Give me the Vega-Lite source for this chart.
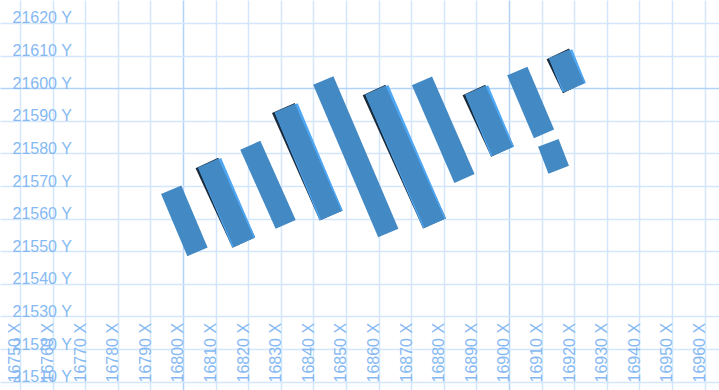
{
  "$schema": "https://vega.github.io/schema/vega-lite/v6.json",
  "width": 719,
  "height": 390,
  "autosize": "none",
  "padding": 0,
  "background": "white",
  "config": {"view": {"stroke": null}},
  "data": {
    "values": [
      {"bar": 1, "group": "a", "x_top": 16796.38, "y_top": 21568.88, "x_bottom": 16804.45, "y_bottom": 21549.80},
      {"bar": 2, "group": "b", "x_top": 16807.76, "y_top": 21577.07, "x_bottom": 16818.65, "y_bottom": 21552.69},
      {"bar": 3, "group": "a", "x_top": 16820.64, "y_top": 21582.52, "x_bottom": 16831.50, "y_bottom": 21558.24},
      {"bar": 4, "group": "b", "x_top": 16831.23, "y_top": 21593.93, "x_bottom": 16845.46, "y_bottom": 21560.97},
      {"bar": 5, "group": "a", "x_top": 16843.04, "y_top": 21602.36, "x_bottom": 16862.98, "y_bottom": 21555.60},
      {"bar": 6, "group": "b", "x_top": 16859.05, "y_top": 21599.45, "x_bottom": 16877.15, "y_bottom": 21558.54},
      {"bar": 7, "group": "a", "x_top": 16873.31, "y_top": 21602.24, "x_bottom": 16886.35, "y_bottom": 21572.31},
      {"bar": 8, "group": "b", "x_top": 16889.66, "y_top": 21599.45, "x_bottom": 16898.01, "y_bottom": 21580.59},
      {"bar": 9, "group": "a", "x_top": 16902.55, "y_top": 21605.28, "x_bottom": 16910.74, "y_bottom": 21585.99},
      {"bar": 10, "group": "a", "x_top": 16912.06, "y_top": 21583.23, "x_bottom": 16915.25, "y_bottom": 21575.01},
      {"bar": 11, "group": "b", "x_top": 16915.40, "y_top": 21610.52, "x_bottom": 16920.00, "y_bottom": 21600.16}
    ]
  },
  "encoding": {
    "x": {
      "field": "x_top", "type": "quantitative",
      "scale": {"domain": [16743.87, 16964.42], "zero": false, "nice": false},
      "axis": {
        "orient": "bottom", "title": null,
        "values": [16750,16760,16770,16780,16790,16800,16810,16820,16830,16840,16850,16860,16870,16880,16890,16900,16910,16920,16930,16940,16950,16960],
        "labelExpr": "datum.value + ' X'",
        "labelAngle": -90, "labelAlign": "left", "labelBaseline": "alphabetic",
        "labelPadding": -8, "ticks": false, "domain": false,
        "labelOverlap": false, "labelBound": false, "labelFlush": false,
        "labelFont": "Liberation Sans", "labelFontSize": 16, "labelColor": "#86b9f2",
        "grid": true,
        "gridColor": {"condition": {"test": "datum.value % 100 === 0", "value": "#b2d2f8"}, "value": "#d4e6fc"},
        "gridWidth": 1.5
      }
    },
    "y": {
      "field": "y_top", "type": "quantitative",
      "scale": {"domain": [21507.45, 21627.05], "zero": false, "nice": false},
      "axis": {
        "orient": "left", "title": null,
        "values": [21510,21520,21530,21540,21550,21560,21570,21580,21590,21600,21610,21620],
        "labelExpr": "datum.value + ' Y'",
        "labelAlign": "left", "labelBaseline": "alphabetic",
        "labelPadding": -12, "ticks": false, "domain": false,
        "labelOverlap": false, "labelBound": false, "labelFlush": false,
        "labelFont": "Liberation Sans", "labelFontSize": 16, "labelColor": "#86b9f2",
        "grid": true,
        "gridColor": {"condition": {"test": "datum.value % 100 === 0", "value": "#b2d2f8"}, "value": "#d4e6fc"},
        "gridWidth": 1.5
      }
    },
    "x2": {"field": "x_bottom"},
    "y2": {"field": "y_bottom"}
  },
  "layer": [
    {
      "transform": [{"filter": "datum.group === 'b'"}],
      "mark": {"type": "rule", "color": "#1a2b3c", "strokeWidth": 25, "strokeCap": "butt", "xOffset": -1.4}
    },
    {
      "transform": [{"filter": "datum.group === 'b'"}],
      "mark": {"type": "rule", "color": "#4fa6f2", "strokeWidth": 25, "strokeCap": "butt", "xOffset": 1.4}
    },
    {
      "mark": {"type": "rule", "color": "#4389c4", "strokeWidth": 22, "strokeCap": "butt"}
    }
  ]
}
